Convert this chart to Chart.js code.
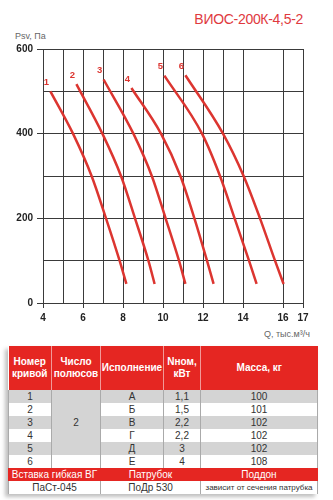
<!DOCTYPE html>
<html>
<head>
<meta charset="utf-8">
<script src="https://cdn.jsdelivr.net/npm/chart.js@4"></script>
<style>
  body { margin: 0; background: #fff; width: 333px; height: 500px; overflow: hidden; position: relative; font-family: "Liberation Sans", Arial, sans-serif; }
  .title { position: absolute; right: 30px; top: 11px; color: #e0393e; font-size: 14px; letter-spacing: -0.3px; }
  .ylab { position: absolute; left: 15px; top: 31px; color: #666; font-size: 9px; }
  .xlab { position: absolute; left: 264px; top: 329px; color: #666; font-size: 9px; }
  .chart-box { position: absolute; left: 0; top: 0; width: 333px; height: 330px; }
  table { position: absolute; left: 8px; top: 346px; width: 309px; border-collapse: collapse; table-layout: fixed;
          box-shadow: -3px 3px 4px rgba(0,0,0,0.25); font-family: "Liberation Sans Narrow", "Liberation Sans", Arial, sans-serif; }
  td, th { padding: 0; text-align: center; font-size: 10px; color: #333; line-height: 12px; }
  th { background: #e52622; color: #fff; font-weight: bold; height: 44px; border-left: 1px solid #f19a98; }
  th:first-child { border-left: none; }
  td { height: 13px; border: 1px solid #aaa; border-top: none; border-bottom: none; }
  tr.g td { background: #d4d4d4; }
  tr.w td { background: #fff; }
  td.merged { background: #d4d4d4 !important; }
  tr.red td { background: #e52622; color: #fff; border-color: #e52622; }
  tr.last td { background: #fff; }
  td.small { font-size: 8px; }
</style>
</head>
<body>
<div class="title">ВИОС-200К-4,5-2</div>
<div class="ylab">Psv, Па</div>
<div class="xlab">Q, тыс.м³/ч</div>
<div class="chart-box"><canvas id="fanChart"></canvas></div>

<table>
  <colgroup>
    <col style="width:43px"><col style="width:49px"><col style="width:63px"><col style="width:37px"><col style="width:117px">
  </colgroup>
  <tr><th>Номер<br>кривой</th><th>Число<br>полюсов</th><th>Исполнение</th><th>Nном,<br>кВт</th><th>Масса, кг</th></tr>
  <tr class="g"><td>1</td><td class="merged" rowspan="5">2</td><td>А</td><td>1,1</td><td>100</td></tr>
  <tr class="w"><td>2</td><td>Б</td><td>1,5</td><td>101</td></tr>
  <tr class="g"><td>3</td><td>В</td><td>2,2</td><td>102</td></tr>
  <tr class="w"><td>4</td><td>Г</td><td>2,2</td><td>102</td></tr>
  <tr class="g"><td>5</td><td>Д</td><td>3</td><td>102</td></tr>
  <tr class="w"><td>6</td><td></td><td>Е</td><td>4</td><td>108</td></tr>
  <tr class="red"><td colspan="2">Вставка гибкая ВГ</td><td colspan="2">Патрубок</td><td>Поддон</td></tr>
  <tr class="last"><td colspan="2">ПаСт-045</td><td colspan="2">ПоДр 530</td><td class="small">зависит от сечения патрубка</td></tr>
</table>

<script>
//----------------------
// Data (Q in thousand m3/h, Psv in Pa)
//----------------------

const q1 = [4.37, 5.5, 6.43, 7.15, 7.83, 8.17];
const p1 = [500, 400, 300, 200, 100, 45];
const q2 = [5.67, 6.97, 7.9, 8.6, 9.27, 9.58];
const p2 = [517, 400, 300, 200, 100, 45];
const q3 = [7.03, 8.52, 9.44, 10.13, 10.8, 11.12];
const p3 = [528, 400, 300, 200, 100, 45];
const q4 = [8.42, 9.9, 10.87, 11.57, 12.2, 12.53];
const p4 = [508, 400, 300, 200, 100, 45];
const q5 = [10.07, 11.95, 12.85, 13.58, 14.3, 14.68];
const p5 = [537, 400, 300, 200, 100, 45];
const q6 = [11.12, 13.0, 14.03, 14.85, 15.6, 16.03];
const p6 = [538, 400, 300, 200, 100, 45];

const curveLabels = ['1', '2', '3', '4', '5', '6'];
const xTickLabels = [4, 6, 8, 10, 12, 14, 16, 17];
const yTickLabels = [0, 200, 400, 600];

const curves = [[q1, p1], [q2, p2], [q3, p3], [q4, p4], [q5, p5], [q6, p6]];
const red = '#dc3530';
const gridColor = '#3a3a3a';

const datasets = curves.map((c, n) => ({
    label: curveLabels[n],
    data: c[0].map((q, i) => ({ x: q, y: c[1][i] })),
    borderColor: red,
    borderWidth: 2.5,
    pointRadius: 0,
    cubicInterpolationMode: 'monotone',
    fill: false
}));

// number above the start of each curve
const curveNumbers = {
    id: 'curveNumbers',
    afterDatasetsDraw(chart) {
        const ctx = chart.ctx;
        ctx.save();
        ctx.font = 'bold 9.5px "Liberation Sans", Arial, sans-serif';
        ctx.fillStyle = red;
        ctx.textAlign = 'center';
        ctx.textBaseline = 'middle';
        chart.data.datasets.forEach((ds, i) => {
            const p = chart.getDatasetMeta(i).data[0];
            ctx.fillText(ds.label, p.x - 4, p.y - 9);
        });
        ctx.restore();
    }
};

//----------------------
// Chart
//----------------------

const tickFont = { family: '"Liberation Sans", Arial, sans-serif', size: 10, weight: 'bold' };

new Chart(document.getElementById('fanChart'), {
    type: 'line',
    data: { datasets: datasets },
    plugins: [curveNumbers],
    options: {
        responsive: true,
        maintainAspectRatio: false,
        animation: false,
        layout: { padding: { top: 49, right: 30, left: 0, bottom: 0 } },
        plugins: { legend: { display: false }, tooltip: { enabled: false } },
        scales: {
            x: {
                type: 'linear',
                min: 4,
                max: 17,
                afterFit: s => { s.height = 27; },
                border: { color: gridColor, width: 1 },
                grid: {
                    color: c => c.tick && c.tick.value === 15 ? 'rgba(0,0,0,0)' : gridColor,
                    tickColor: c => c.tick && xTickLabels.includes(c.tick.value) ? gridColor : 'rgba(0,0,0,0)',
                    tickLength: 5,
                    lineWidth: 1
                },
                ticks: {
                    stepSize: 1,
                    autoSkip: false,
                    maxRotation: 0,
                    padding: 4,
                    color: '#222',
                    font: tickFont,
                    callback: v => xTickLabels.includes(v) ? v : ''
                }
            },
            y: {
                min: 0,
                max: 600,
                afterFit: s => { s.width = 43; },
                border: { color: gridColor, width: 1 },
                grid: {
                    color: gridColor,
                    tickColor: c => c.tick && yTickLabels.includes(c.tick.value) ? gridColor : 'rgba(0,0,0,0)',
                    tickLength: 6,
                    lineWidth: 1
                },
                ticks: {
                    stepSize: 100,
                    padding: 4,
                    color: '#222',
                    font: tickFont,
                    callback: v => yTickLabels.includes(v) ? v : ''
                }
            }
        }
    }
});
</script>
</body>
</html>
